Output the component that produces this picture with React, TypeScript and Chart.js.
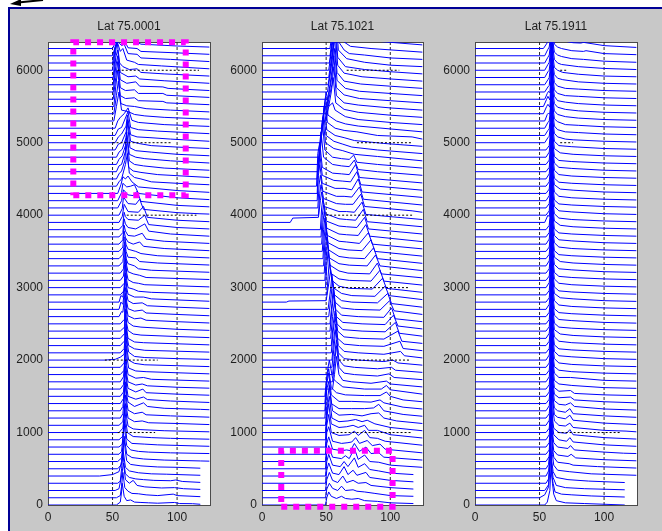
import React, { useEffect, useRef } from 'react';
import { Chart, registerables } from 'chart.js';
Chart.register(...registerables);

// ---------- data ----------
const titles = ['Lat 75.0001', 'Lat 75.1021', 'Lat 75.1911'];
const yTicks = [0, 1000, 2000, 3000, 4000, 5000, 6000];
const xTicks = [0, 50, 100];
const traceStep = 100;
const xMax = 125.5;
const yMax = 6390;
const refLines = [50, 100];

// each trace: [x, dy, x, dy, ...] (dy = height above the trace's own baseline)
const p1Traces: number[][] = [
  [53,0, 56,40, 57,180, 57.5,300, 59,120, 61,60, 64,70, 67,40, 72,35, 78,30, 85,25, 98,35, 102,20, 112,18, 118,10],
  [53,0, 56,30, 57,160, 58,350, 59.5,140, 62,90, 65,60, 70,55, 76,40, 85,30, 97,50, 100,30, 110,22, 118,15],
  [52,0, 55,25, 57,200, 58.5,380, 60,150, 63,100, 66,140, 69,70, 75,50, 88,35, 98,40, 105,25, 118,15],
  [54,0, 56,30, 57,200, 58,420, 59,250, 60,130, 63,80, 68,60, 74,50, 82,40, 95,35, 99,45, 104,25, 118,12],
  [40,0, 50,20, 55,60, 57,200, 58,380, 60,120, 63,70, 70,45, 80,30, 92,25, 118,10],
  [54,0, 57,60, 58,220, 59,400, 60,230, 61,110, 64,60, 72,40, 85,25, 100,20, 118,8],
  [54,0, 57,50, 58,200, 59,350, 61,100, 65,55, 74,35, 90,20, 118,8, 125,5],
  [55,0, 57,40, 58,220, 59,420, 60,250, 61,120, 64,60, 70,40, 78,30, 95,20, 125,10],
  [55,0, 57.5,40, 58.5,200, 59.5,380, 61,110, 65,50, 75,40, 85,30, 125,10],
  [55,0, 58,50, 58.8,250, 59.5,450, 60.5,230, 61.5,100, 66,45, 80,30, 95,20, 125,8],
  [55,0, 58,60, 59,220, 60,400, 61,200, 62,90, 66,50, 72,40, 90,25, 125,10],
  [55,0, 58,50, 59,200, 60,420, 61,220, 62,100, 67,50, 73,60, 78,35, 100,25, 125,10],
  [56,0, 58,60, 59,250, 60,450, 61,230, 62,110, 67,60, 73,80, 76,45, 95,30, 125,12],
  [56,0, 58,60, 59,220, 60,400, 61,220, 62,120, 67,60, 74,110, 77,60, 90,35, 118,20, 125,15],
  [56,0, 58.5,70, 59.3,250, 60,450, 61,220, 62,100, 68,60, 74,90, 77,55, 95,35, 125,15],
  [56,0, 58.5,60, 59.3,230, 60,420, 61,220, 62,110, 68,60, 73.5,100, 76,50, 100,30, 125,15],
  [56,0, 58.5,60, 59.3,220, 60,400, 61,200, 62,100, 68,55, 73,70, 77,45, 100,25, 125,12],
  [56,0, 58.5,70, 59.3,250, 60,450, 61,220, 62,100, 68,50, 74,60, 80,35, 125,10],
  [56,0, 59,60, 59.8,230, 60.5,400, 61.5,200, 62.5,90, 68,50, 76,40, 100,25, 125,10],
  [56,0, 59,60, 59.8,240, 60.5,420, 61.5,210, 62.5,100, 67,55, 75,35, 125,10],
  [44,0, 52,10, 56,40, 59,80, 59.8,250, 60.5,450, 61.5,220, 62.5,110, 67,50, 75,35, 100,20, 125,10],
  [56,0, 59,60, 59.8,230, 60.5,400, 61.5,200, 62.5,100, 67,55, 75,35, 125,10],
  [56,0, 59,60, 59.5,240, 60,430, 61,220, 62,100, 67,50, 74,40, 125,10],
  [56,0, 59,60, 59.5,220, 60,400, 61,200, 62,110, 66,60, 72,45, 100,25, 125,10],
  [56,0, 59,50, 59.5,250, 60,450, 61,230, 62,120, 66,70, 72,55, 100,25, 125,10],
  [56,0, 59,60, 59.5,230, 60,420, 61,210, 62,110, 67,70, 72,80, 76,50, 100,30, 125,12],
  [55,0, 57,70, 58,60, 59,220, 60,400, 61,200, 62,110, 67,75, 73,90, 76,50, 100,30, 125,12],
  [55,0, 56.5,100, 58,70, 59,230, 60,420, 61,210, 62,120, 66,80, 73,90, 77,50, 100,30, 125,12],
  [55,0, 56.5,90, 58,70, 59,220, 60,400, 61,200, 62,110, 67,70, 74,70, 80,45, 100,30, 125,12],
  [56,0, 59,60, 59.5,230, 60,420, 61,200, 62,100, 66,80, 70,50, 80,35, 125,10],
  [56,0, 59,60, 59.5,220, 60,400, 61,200, 62,110, 66,70, 70,60, 75,40, 125,10],
  [56,0, 58.5,60, 59.3,220, 60,380, 61,200, 62,120, 66,90, 71,70, 76,40, 125,12],
  [56,0, 58.5,60, 59,200, 59.5,350, 60.5,200, 62,130, 67,100, 70,60, 80,40, 125,12],
  [55,0, 58,60, 59,200, 59.5,330, 60.5,200, 62,120, 68,110, 71,60, 85,40, 125,12],
  [55,0, 58,60, 59,190, 59.5,300, 60.5,190, 62,130, 68,100, 72,70, 85,40, 125,10],
  [55,0, 58,60, 58.5,180, 59,280, 60,190, 62,130, 66,100, 71,130, 74,70, 90,40, 125,10],
  [55,0, 58,60, 58.5,170, 59,260, 60,180, 62,120, 67,110, 73,150, 76,70, 90,40, 125,10],
  [55,0, 58,60, 58.5,170, 59,250, 60,180, 62,130, 68,110, 75,180, 78,80, 95,40, 125,10],
  [55,0, 58,60, 58.5,160, 59,240, 60,180, 62,140, 70,130, 75,200, 78,70, 100,30, 125,10],
  [55,0, 57.5,80, 59,250, 62,150, 70,140, 74,220, 77,70, 100,30, 125,10],
  [55,0, 57.5,90, 58.5,250, 62,160, 68,150, 71,220, 74,80, 100,35, 117,20, 125,15],
  [54,0, 57,100, 58.5,250, 62,180, 66,170, 69,230, 72,90, 100,35, 125,15],
  [54,0, 57,110, 58,240, 61,190, 64,200, 67,220, 70,100, 100,40, 125,15],
  [54,0, 56.5,120, 58,230, 60,200, 62,240, 65,160, 70,90, 100,40, 125,15],
  [53,0, 55,60, 57,100, 60,300, 61.5,450, 63,180, 67,120, 72,100, 80,60, 100,40, 125,20],
  [53,0, 55,70, 57,110, 59.5,250, 60.5,480, 62.5,160, 66,110, 72,90, 85,60, 125,20],
  [53,0, 55,80, 57,100, 60,280, 61,500, 63,150, 67,100, 74,80, 90,50, 125,20],
  [53,0, 55,70, 57.5,120, 60,260, 61,450, 63,140, 68,100, 75,80, 95,50, 125,20],
  [53,0, 55,70, 57.5,110, 60.5,270, 61.5,480, 63.5,130, 68,90, 80,70, 100,40, 125,20],
  [52,0, 54.5,80, 57,100, 60.5,250, 61.5,420, 64,120, 70,90, 80,60, 100,40, 125,20],
  [52,0, 54.5,80, 57,120, 60.5,230, 61.5,380, 64,110, 69,80, 79,70, 95,50, 125,20],
  [52,0, 54.5,90, 57,110, 62,330, 64,110, 70,80, 85,60, 125,25],
  [52,0, 54,100, 56,150, 59,200, 62,280, 65,110, 70,80, 90,50, 125,25],
  [51,0, 53,200, 55,400, 57,150, 62,130, 67,90, 75,70, 90,50, 125,25],
  [51,0, 53,250, 54.5,450, 56.5,140, 61,110, 67,100, 76,70, 95,50, 125,25],
  [51,0, 52.5,280, 54,500, 56,150, 60,110, 67,120, 70,80, 89,70, 92,50, 125,25],
  [50.5,0, 52.5,300, 54,520, 56,160, 60,120, 67,130, 70,80, 89,80, 92,55, 125,25],
  [50.5,0, 52.5,350, 54,500, 56,170, 61,120, 68,140, 71,80, 89,70, 93,50, 125,20],
  [50.5,0, 52.5,380, 54,480, 56,170, 62,110, 68,120, 71,80, 90,55, 125,20],
  [50.5,0, 52,300, 53.5,500, 55.5,200, 58,150, 63,110, 69,120, 72,70, 90,50, 125,20],
  [50,0, 52,280, 53.5,400, 56,260, 58,300, 61,140, 67,110, 70,80, 88,60, 125,20],
  [50,0, 52,220, 54,300, 57,240, 59,260, 62,130, 69,120, 72,70, 95,50, 125,20],
  [50,0, 53,180, 55,200, 58,240, 59.5,200, 62,110, 69,100, 72,60, 100,40, 125,20],
  [50,0, 54,150, 56,170, 58.5,250, 61,130, 69,90, 72,60, 100,35, 125,20],
];

const p2Traces: number[][] = [
  [49.5,0, 50.5,100, 52,180, 54,120, 58,90, 62,120, 65,90, 70,80, 75,90, 80,60, 90,50, 100,30, 118,20],
  [49.5,0, 50.5,120, 52.5,200, 55,130, 59,100, 62,160, 65,100, 71,110, 74,90, 80,80, 88,60, 100,30, 118,20],
  [49.5,0, 50.5,150, 52.5,250, 55,140, 59,110, 63,200, 66,110, 71,140, 75,100, 81,110, 85,70, 100,40, 118,20],
  [49.5,0, 50.5,180, 52,280, 55,140, 60,120, 64,230, 67,120, 71,180, 74,110, 81,150, 84,80, 100,40, 118,20],
  [49.5,0, 50.5,200, 52,300, 55,150, 61,130, 64,200, 67,130, 72,250, 75,120, 80,170, 84,90, 91,70, 100,40, 118,20],
  [49.5,0, 50.5,220, 52,320, 55,160, 62,140, 65,180, 68,140, 72,280, 75,130, 80,190, 84,100, 91,90, 100,50, 125,20],
  [49.5,0, 50.5,250, 52,340, 55,170, 62,150, 66,160, 69,150, 72,250, 76,140, 81,200, 85,110, 91,120, 95,60, 125,20],
  [49.5,0, 50.5,300, 52,380, 55,180, 62,150, 67,160, 70,170, 73,230, 76,150, 82,190, 86,120, 92,140, 96,70, 125,20],
  [49.5,0, 50.5,300, 52,450, 54,200, 60,160, 68,170, 72,220, 75,160, 80,230, 84,130, 90,120, 96,80, 125,25],
  [49.5,0, 50.5,300, 52,500, 54,220, 60,170, 66,180, 71,200, 75,170, 80,200, 83,130, 90,130, 100,70, 125,25],
  [49.5,0, 51,350, 52.5,500, 54.5,200, 60,150, 67,160, 73,180, 78,150, 82,170, 88,120, 100,70, 125,25],
  [49.5,0, 51,350, 52.5,550, 55,200, 60,140, 70,150, 78,130, 85,160, 91,170, 95,100, 105,60, 125,25],
  [49,0, 50.5,400, 52,500, 54,200, 60,130, 70,130, 80,130, 87,140, 91,190, 95,100, 110,50, 125,25],
  [49,0, 50.5,380, 52,520, 54,220, 60,130, 70,130, 85,120, 92,150, 95,110, 110,50, 125,25],
  [49,0, 50.5,350, 52,480, 54,220, 58,150, 65,120, 80,110, 92,110, 97,160, 100,100, 110,50, 125,25],
  [49,0, 51,350, 52.5,500, 55,250, 58,200, 63,130, 80,100, 93,100, 97,150, 100,90, 125,30],
  [55,0, 56.5,200, 58,450, 60,200, 63,120, 70,100, 85,80, 97,110, 100,70, 125,30],
  [55,0, 56.5,250, 58,500, 60,200, 64,120, 72,100, 90,80, 99,110, 103,60, 125,30],
  [55,0, 56.5,250, 58,480, 60,200, 64,120, 72,100, 90,80, 101,100, 104,60, 125,30],
  [54.5,0, 56,250, 57.5,520, 59.5,200, 64,120, 75,100, 95,80, 102,100, 106,60, 125,30],
  [54.5,0, 56,300, 57.5,500, 59.5,200, 64,120, 75,100, 95,80, 108,120, 111,60, 125,30],
  [54,0, 55.5,300, 57,500, 59,200, 64,120, 76,100, 95,90, 107.5,160, 110,60, 125,30],
  [54,0, 55.5,300, 57,480, 59,200, 64,120, 76,100, 95,90, 106,200, 109,60, 125,30],
  [53.5,0, 55,300, 56.5,500, 58.5,200, 63,120, 78,100, 96,90, 104,220, 107,70, 125,30],
  [53,0, 54.5,300, 56,520, 58,200, 63,120, 78,100, 96,90, 102.5,220, 106,70, 125,30],
  [53,0, 54.5,280, 55.5,480, 57.5,200, 62,120, 75,100, 95,90, 101,220, 104,70, 125,30],
  [52,0, 54,300, 55,500, 57,200, 62,120, 72,100, 92,90, 99.5,220, 103,80, 125,30],
  [51.5,0, 53.5,280, 54.5,480, 56.5,200, 62,120, 70,100, 90,90, 98,220, 101,80, 125,30],
  [19,0, 21,15, 50,20, 52,250, 53.5,450, 55.5,200, 62,120, 70,90, 88,80, 96,220, 99,90, 125,35],
  [50.5,0, 51.5,250, 52.5,480, 54.5,200, 60,120, 68,90, 86,80, 94,230, 97,90, 125,35],
  [49.5,0, 50.5,300, 51.5,500, 53.5,200, 60,120, 68,100, 85,90, 92,240, 95,90, 125,35],
  [49,0, 50,300, 51,520, 53,210, 60,130, 67,100, 84,90, 90,240, 93,90, 125,35],
  [48.5,0, 49.5,320, 50.5,500, 52.5,210, 60,130, 68,110, 82,100, 88.5,250, 92,100, 125,35],
  [48,0, 49,320, 50,500, 52,220, 60,130, 68,110, 80,100, 87,250, 90,100, 125,35],
  [47.5,0, 48.5,300, 49.5,480, 51.5,220, 60,140, 67,120, 78,110, 85,260, 88,100, 125,35],
  [47,0, 48,300, 49,460, 51,220, 60,140, 66,130, 76,110, 83,260, 86,100, 125,35],
  [46.5,0, 47.5,300, 48.5,450, 50.5,220, 60,140, 66,130, 75,120, 81,270, 84,110, 125,35],
  [46,0, 47,300, 48,440, 50,220, 60,150, 66,140, 74,130, 80,270, 83,110, 125,40],
  [45.5,0, 46.5,300, 47.5,430, 49.5,220, 60,150, 66,140, 73,130, 79,280, 82,110, 125,40],
  [22,0, 24,60, 44,70, 45.5,300, 46.5,420, 48.5,220, 60,150, 66,150, 72,140, 78,280, 81,110, 125,40],
  [44,0, 45,300, 46,420, 48,230, 58,160, 65,150, 71,150, 77,290, 80,120, 117,60, 125,40],
  [43.5,0, 44.5,320, 45.5,450, 47.5,230, 58,160, 64,160, 70,150, 76,290, 79,120, 125,40],
  [43,0, 44,350, 45,500, 47,240, 57,170, 64,170, 70,150, 75,300, 78,120, 125,45],
  [43,0, 44,400, 45,550, 47,250, 56,180, 63,170, 69,160, 74,300, 77,120, 125,45],
  [42.5,0, 43.5,450, 45,600, 47,260, 55,180, 62,170, 68,160, 73,300, 76,120, 125,45],
  [43,0, 44.5,400, 46,650, 48,300, 55,200, 62,180, 68,170, 72,260, 75,130, 90,100, 125,50],
  [44,0, 45.5,400, 47,700, 49,300, 55,200, 62,180, 68,170, 71.5,230, 74,130, 90,100, 125,50],
  [44.5,0, 46,400, 47.5,650, 49.5,300, 56,220, 63,190, 72,140, 90,110, 125,50],
  [45,0, 46.5,380, 48,600, 50,300, 56,220, 63,180, 70,140, 90,100, 125,50],
  [45.5,0, 47,350, 48.5,600, 50.5,280, 57,200, 64,170, 72,130, 95,90, 125,50],
  [46,0, 47.5,330, 49,550, 51,280, 57,200, 64,170, 74,150, 90,100, 117,80, 125,50],
  [46.5,0, 48,300, 49.5,520, 51.5,280, 58,200, 65,160, 75,130, 100,90, 125,50],
  [47,0, 48.5,300, 50,500, 52,300, 55,350, 57,250, 65,160, 75,120, 100,80, 125,50],
  [50,0, 52,200, 54,400, 55.5,600, 57.5,250, 64,160, 75,120, 100,80, 125,50],
  [50,0, 52,200, 54.5,400, 56,650, 58,250, 64,150, 75,120, 100,80, 125,50],
  [50.5,0, 52.5,200, 54.5,420, 56,700, 58,260, 64,160, 76,110, 100,80, 125,50],
  [51,0, 53,200, 55,450, 56.5,700, 58.5,260, 65,150, 76,110, 100,80, 125,50],
  [51,0, 53,220, 55,480, 56.5,750, 58.5,270, 64,150, 77,110, 100,80, 125,50],
  [51.5,0, 53.5,220, 55.5,500, 57,750, 59,270, 64,160, 78,110, 100,80, 125,50],
  [52,0, 54,250, 56,520, 57,800, 59,280, 65,150, 80,110, 100,80, 125,50],
  [52,0, 54,250, 56,500, 57.5,800, 59.5,280, 66,160, 80,110, 100,70, 125,50],
  [52.5,0, 54.5,250, 56,520, 57.5,800, 59.5,300, 64,180, 68,130, 80,110, 100,70, 125,50],
  [53,0, 55,260, 56.5,550, 58,800, 60,300, 64,190, 69,130, 85,100, 125,50],
  [53,0, 55,270, 56.5,560, 58,800, 60,300, 65,190, 70,130, 90,100, 125,50],
];

const p3Traces: number[][] = [
  [54,0, 56,40, 58,200, 59,600, 60,300, 61,150, 63,60, 70,30, 85,20, 116,0],
  [50,0, 54,40, 57,150, 58.5,650, 59.5,300, 60.5,200, 62,80, 67,50, 75,40, 90,25, 116,10],
  [54,0, 57,80, 58,300, 58.5,700, 59.5,300, 60.5,180, 63,70, 70,40, 85,25, 116,10],
  [55,0, 57,60, 58,280, 58.5,650, 59.5,300, 60.5,160, 63,80, 72,50, 88,30, 116,10],
  [55,0, 57,70, 58,260, 59,700, 60,300, 61,150, 64,80, 73,60, 90,30, 125,10],
  [55,0, 57,60, 58,260, 59,650, 60,300, 61,160, 64,90, 73,70, 76,50, 95,30, 125,10],
  [55,0, 57.5,70, 58.3,280, 59,700, 60,300, 61,150, 64,90, 72,70, 74.5,100, 78,50, 100,25, 125,10],
  [55,0, 57.5,60, 58.3,260, 59,680, 60,300, 61,160, 64,100, 72,80, 74,120, 77,60, 100,30, 115,15, 125,10],
  [55,0, 57.5,60, 58.3,280, 59,700, 60,320, 61,170, 65,100, 71,80, 73.5,130, 76,70, 100,30, 125,10],
  [55,0, 57.5,70, 58.3,290, 59,720, 60,300, 61,160, 65,100, 71,90, 73.5,140, 76,70, 100,30, 125,10],
  [55,0, 57.5,60, 58.6,270, 59.5,700, 60.5,300, 61.5,160, 65,100, 70,90, 73.5,130, 76,70, 100,30, 117,20, 125,10],
  [55,0, 57.5,70, 58.6,290, 59.5,720, 60.5,300, 61.5,150, 64,110, 70,90, 73.5,140, 76,70, 100,30, 125,10],
  [55,0, 57.5,60, 58.6,270, 59.5,680, 60.5,280, 61.5,140, 64,100, 70,80, 73.5,130, 76,60, 100,30, 125,10],
  [55,0, 57.5,70, 58.6,280, 59.5,700, 60.5,290, 61.5,140, 65,90, 70,80, 74,110, 77,60, 100,25, 125,10],
  [55,0, 57.5,60, 58.6,270, 59.5,680, 60.5,280, 61.5,130, 65,80, 74,90, 77,50, 100,25, 125,10],
  [55,0, 57.5,60, 58.6,280, 59.5,700, 60.5,280, 61.5,120, 65,70, 74,80, 77,40, 100,20, 125,10],
  [55,0, 57.5,60, 58.6,290, 59.5,720, 60.5,290, 61.5,120, 65,70, 75,50, 100,20, 125,10],
  [55,0, 57.5,70, 58.6,280, 59.5,700, 60.5,280, 61.5,120, 65,60, 74,60, 100,20, 125,10],
  [55,0, 57.5,60, 58.6,270, 59.5,680, 60.5,270, 61.5,110, 65,60, 75,40, 100,20, 125,10],
  [55,0, 57.5,60, 58.6,280, 59.5,700, 60.5,280, 61.5,120, 65,60, 75,40, 100,20, 125,10],
  [55,0, 57.5,70, 58.6,290, 59.5,720, 60.5,290, 61.5,120, 65,60, 75,45, 100,20, 125,10],
  [55,0, 57.5,60, 58.6,280, 59.5,700, 60.5,280, 61.5,110, 65,55, 75,40, 100,20, 125,10],
  [55,0, 57.5,60, 58.6,270, 59.5,680, 60.5,270, 61.5,120, 65,60, 75,40, 100,20, 125,10],
  [55,0, 57.5,70, 58.6,280, 59.5,700, 60.5,280, 61.5,120, 66,60, 76,40, 100,20, 125,10],
  [55,0, 57.5,60, 58.6,290, 59.5,720, 60.5,290, 61.5,110, 65,55, 75,40, 100,20, 125,10],
  [55,0, 57.5,60, 58.6,280, 59.5,700, 60.5,280, 61.5,120, 65,60, 75,45, 100,20, 125,10],
  [55,0, 57.5,60, 58.6,270, 59.5,680, 60.5,270, 61.5,110, 65,55, 75,40, 100,20, 125,10],
  [55,0, 57.5,70, 58.6,280, 59.5,700, 60.5,280, 61.5,120, 65,60, 75,40, 100,20, 125,10],
  [55,0, 57.5,60, 58.6,290, 59.5,720, 60.5,290, 61.5,120, 66,60, 76,45, 100,20, 125,10],
  [55,0, 57.5,60, 58.6,280, 59.5,700, 60.5,280, 61.5,110, 65,55, 75,40, 100,20, 125,10],
  [55,0, 57.5,70, 58.6,280, 59.5,700, 60.5,280, 61.5,120, 65,60, 75,40, 100,20, 125,10],
  [55,0, 57.5,60, 58.6,270, 59.5,680, 60.5,270, 61.5,110, 65,55, 75,40, 100,20, 125,10],
  [55,0, 57.5,60, 58.6,280, 59.5,700, 60.5,280, 61.5,120, 65,60, 75,45, 100,20, 125,10],
  [55,0, 57.5,70, 58.6,290, 59.5,720, 60.5,290, 61.5,120, 66,60, 76,40, 100,20, 125,10],
  [55,0, 57.5,60, 58.6,280, 59.5,700, 60.5,280, 61.5,110, 65,55, 75,40, 100,20, 125,10],
  [55,0, 57.5,60, 58.6,270, 59.5,680, 60.5,270, 61.5,120, 65,60, 75,40, 100,20, 125,10],
  [55,0, 57.5,70, 58.6,280, 59.5,700, 60.5,280, 61.5,120, 65,60, 75,45, 100,20, 125,10],
  [55,0, 57.5,60, 58.6,290, 59.5,720, 60.5,290, 61.5,110, 65,55, 75,40, 100,20, 125,10],
  [55,0, 57.5,60, 58.6,280, 59.5,700, 60.5,280, 61.5,120, 66,60, 76,40, 100,20, 125,10],
  [54,0, 56.5,100, 57.5,80, 58.6,270, 59.5,680, 60.5,270, 61.5,120, 65,60, 75,40, 100,20, 125,10],
  [55,0, 57.5,60, 58.6,280, 59.5,700, 60.5,280, 61.5,120, 65,60, 75,45, 100,20, 125,10],
  [55,0, 57.5,60, 58.6,290, 59.5,720, 60.5,290, 61.5,110, 65,55, 75,40, 100,20, 125,10],
  [55,0, 57.5,70, 58.6,280, 59.5,700, 60.5,280, 61.5,120, 65,60, 75,40, 100,20, 125,10],
  [55,0, 57.5,60, 58.6,270, 59.5,680, 60.5,270, 61.5,120, 66,60, 76,45, 100,20, 125,10],
  [55,0, 57.5,60, 58.6,280, 59.5,700, 60.5,280, 61.5,110, 65,55, 75,40, 100,20, 125,10],
  [55,0, 57.5,70, 58.6,290, 59.5,720, 60.5,290, 61.5,120, 65,60, 75,40, 100,20, 125,10],
  [55,0, 57.5,60, 58.6,280, 59.5,700, 60.5,280, 61.5,120, 65,60, 75,45, 100,20, 125,10],
  [55,0, 57.5,60, 58.6,270, 59.5,680, 60.5,270, 61.5,110, 65,55, 75,40, 100,20, 125,10],
  [55,0, 57.5,70, 58.6,280, 59.5,700, 60.5,280, 61.5,120, 66,60, 76,40, 100,20, 125,10],
  [55,0, 57.5,60, 58.6,290, 59.5,720, 60.5,290, 61.5,120, 65,60, 75,45, 100,20, 125,10],
  [54,0, 56.5,70, 57.5,90, 58.6,280, 59.5,700, 60.5,280, 61.5,130, 64,80, 70,50, 76,40, 100,20, 125,10],
  [54,0, 56.5,70, 57.5,90, 58.6,290, 59.5,720, 60.5,290, 61.5,130, 64,80, 70,50, 80,40, 100,20, 125,10],
  [54,0, 56.5,80, 57.5,100, 58.6,280, 59.5,700, 60.5,280, 61.5,130, 64,90, 70,50, 80,40, 100,20, 125,10],
  [54,0, 56,90, 57,110, 58,90, 58.8,280, 59.5,700, 60.5,280, 61.5,140, 64,90, 70,60, 80,40, 100,20, 125,10],
  [53,0, 55.5,100, 56.5,130, 58,90, 58.8,290, 59.5,720, 60.5,290, 61.5,140, 64,90, 70,60, 80,40, 100,20, 125,10],
  [53,0, 55.5,100, 56.5,140, 58,90, 58.8,280, 59.5,700, 60.5,280, 61.5,140, 64,80, 70,60, 80,40, 100,20, 125,10],
  [54,0, 56,80, 57,110, 58,90, 58.8,280, 59.5,700, 60.5,280, 61.5,130, 64,80, 70,50, 80,40, 100,20, 125,10],
  [54,0, 56.5,70, 57.5,90, 58.6,290, 59.5,720, 60.5,290, 61.5,130, 64,80, 70,50, 80,40, 100,20, 125,10],
  [54,0, 56.5,70, 57.5,100, 58.6,280, 59.5,700, 60.5,280, 61.5,140, 64,90, 68,70, 80,40, 100,20, 125,10],
  [54,0, 56.5,80, 57.5,100, 58.6,280, 59.5,700, 60.5,280, 61.5,140, 64,100, 68,70, 80,45, 100,20, 125,10],
  [54,0, 56.5,80, 57.5,110, 58.6,290, 59.5,720, 60.5,290, 61.5,150, 64,100, 67,80, 80,50, 100,25, 117,15, 125,10],
  [54,0, 56.5,80, 57.5,110, 58.6,280, 59.5,700, 60.5,280, 61.5,150, 64,110, 67,90, 75,60, 84,50, 100,25, 125,10],
  [54,0, 56.5,90, 57.5,120, 58.6,290, 59.5,720, 60.5,290, 61.5,160, 64,120, 67,100, 75,70, 84,60, 86,70, 100,30, 125,15],
  [53,0, 56,80, 57.5,130, 58.6,280, 59.5,700, 60.5,280, 61.5,170, 64,130, 67,110, 76,80, 82,75, 84,85, 100,40, 125,15],
];

// black dashed markers: [y, x1, x2]
const p1Marks = [[1000, 54, 83], [2000, 44, 85], [4000, 61, 115], [5000, 50, 95], [6000, 54, 117]];
const p2Marks = [[1000, 55, 117], [2000, 60, 115], [3000, 53, 115], [4000, 50, 117], [5000, 74, 117], [6000, 66, 107]];
const p3Marks = [[1000, 64, 113], [5000, 66, 76], [6000, 66, 71]];

// magenta highlight boxes: [x1, y1, x2, y2]
const p1Box = [19.6, 4276, 106.7, 6386];
const p2Box = [15, -23, 101.8, 749];

// ---------- rendering ----------
const FONT = '"Liberation Sans", Arial, Helvetica, sans-serif';

function buildTrace(spec: number[], offset: number) {
  const pts: { x: number; y: number }[] = [];
  if (spec[0] > 0) pts.push({ x: 0, y: offset });
  for (let k = 0; k < spec.length; k += 2) pts.push({ x: spec[k], y: offset + spec[k + 1] });
  return pts;
}

const framePlugin = {
  id: 'frame',
  beforeDatasetsDraw(chart: any) {
    const { ctx, chartArea: a } = chart;
    ctx.save();
    ctx.fillStyle = '#ffffff';
    ctx.fillRect(a.left, a.top, a.right - a.left, a.bottom - a.top);
    ctx.strokeStyle = '#4a4a4a';
    ctx.lineWidth = 1;
    ctx.strokeRect(a.left + 0.5, a.top + 0.5, a.right - a.left, a.bottom - a.top);
    ctx.restore();
  },
  afterDraw(chart: any, _args: any, opts: any) {
    const { ctx, chartArea: a } = chart;
    ctx.save();
    ctx.fillStyle = '#1e1e1e';
    ctx.font = '12px ' + FONT;
    ctx.textAlign = 'center';
    ctx.textBaseline = 'middle';
    ctx.fillText(opts.title || '', (a.left + a.right) / 2, a.top - 15);
    ctx.restore();
  },
};

type PanelProps = {
  traces: number[][];
  marks: number[][];
  box: number[] | null;
  title: string;
  left: number;
  width: number;
};

function Panel({ traces, marks, box, title, left, width }: PanelProps) {
  const ref = useRef<HTMLCanvasElement>(null);
  useEffect(() => {
    if (!ref.current) return;
    const paint: any[] = [];
    refLines.forEach((x) =>
      paint.push({ data: [{ x, y: 0 }, { x, y: yMax }], borderColor: '#2a2a2a', borderDash: [3, 2], borderWidth: 1 })
    );
    traces.forEach((t, i) =>
      paint.push({ data: buildTrace(t, i * traceStep), borderColor: '#0000ff', borderWidth: 1 })
    );
    marks.forEach(([y, x1, x2]) =>
      paint.push({ data: [{ x: x1, y }, { x: x2, y }], borderColor: '#000000', borderDash: [2, 2], borderWidth: 1 })
    );
    if (box) {
      const [x1, y1, x2, y2] = box;
      paint.push({
        data: [{ x: x1, y: y1 }, { x: x2, y: y1 }, { x: x2, y: y2 }, { x: x1, y: y2 }, { x: x1, y: y1 }],
        borderColor: '#ff00ff',
        borderWidth: 6,
        borderDash: [6, 6],
        borderCapStyle: 'butt',
        clip: false,
      });
    }
    const datasets = paint
      .map((d) => ({ pointRadius: 0, tension: 0, fill: false, ...d }))
      .reverse();
    const tickFont = { family: FONT, size: 12 };
    const chart = new Chart(ref.current, {
      type: 'line',
      data: { datasets },
      options: {
        animation: false,
        responsive: false,
        events: [],
        parsing: false as any,
        layout: { padding: { top: 32, right: 2, left: 0, bottom: 0 } },
        plugins: {
          legend: { display: false },
          tooltip: { enabled: false },
          frame: { title },
        } as any,
        scales: {
          x: {
            type: 'linear',
            min: 0,
            max: xMax,
            grid: { display: false, drawTicks: false },
            border: { display: false },
            afterFit: (s: any) => { s.height = 26; },
            afterBuildTicks: (s: any) => { s.ticks = xTicks.map((v) => ({ value: v })); },
            ticks: { padding: 5, color: '#1e1e1e', font: tickFont, maxRotation: 0, autoSkip: false, callback: (v: any) => String(v) },
          },
          y: {
            type: 'linear',
            min: 0,
            max: yMax,
            grid: { display: false, drawTicks: false },
            border: { display: false },
            afterFit: (s: any) => { s.width = 38; },
            afterBuildTicks: (s: any) => { s.ticks = yTicks.map((v) => ({ value: v })); },
            ticks: { padding: 5, color: '#1e1e1e', font: tickFont, autoSkip: false, callback: (v: any) => String(v) },
          },
        },
      } as any,
      plugins: [framePlugin as any],
    });
    return () => chart.destroy();
  }, []);
  return (
    <canvas
      ref={ref}
      width={width}
      height={521}
      style={{ position: 'absolute', left, top: 10, width, height: 521 }}
    />
  );
}

function Arrow() {
  const ref = useRef<HTMLCanvasElement>(null);
  useEffect(() => {
    const c = ref.current;
    if (!c) return;
    const ctx = c.getContext('2d');
    if (!ctx) return;
    ctx.clearRect(0, 0, 60, 12);
    ctx.fillStyle = '#000';
    ctx.beginPath();
    ctx.moveTo(10, 4);
    ctx.lineTo(21, -1);
    ctx.lineTo(21, 6);
    ctx.closePath();
    ctx.fill();
    ctx.strokeStyle = '#000';
    ctx.lineWidth = 2;
    ctx.beginPath();
    ctx.moveTo(18, 2.5);
    ctx.lineTo(43, 0);
    ctx.stroke();
  }, []);
  return <canvas ref={ref} width={60} height={12} style={{ position: 'absolute', left: 0, top: 0 }} />;
}

export default function App() {
  return (
    <div style={{ position: 'fixed', left: 0, top: 0, width: 662, height: 531, background: '#ffffff', overflow: 'hidden' }}>
      <div
        style={{
          position: 'absolute',
          left: 8,
          top: 7,
          width: 662 - 8,
          height: 531 - 7,
          boxSizing: 'border-box',
          background: '#c8c8c8',
          borderLeft: '2px solid #000096',
          borderTop: '2px solid #000096',
        }}
      />
      <Panel traces={p1Traces} marks={p1Marks} box={p1Box} title={titles[0]} left={10} width={202} />
      <Panel traces={p2Traces} marks={p2Marks} box={p2Box} title={titles[1]} left={224} width={201} />
      <Panel traces={p3Traces} marks={p3Marks} box={null} title={titles[2]} left={437} width={202} />
      <Arrow />
    </div>
  );
}
